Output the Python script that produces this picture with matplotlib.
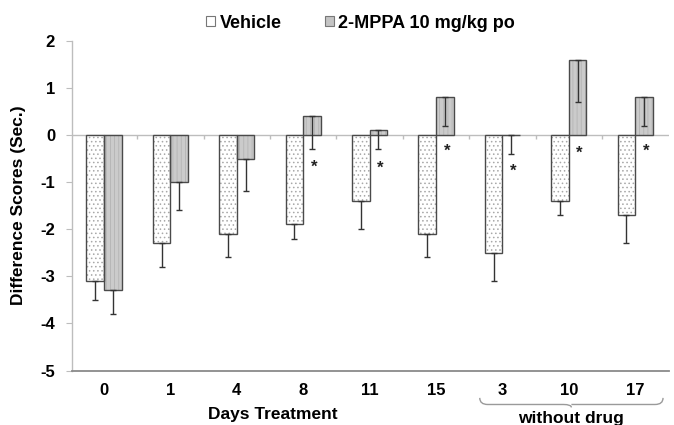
import matplotlib
matplotlib.use("Agg")
import matplotlib.pyplot as plt
from matplotlib.patches import Patch
from matplotlib.path import Path
from matplotlib.patches import PathPatch
import matplotlib.transforms as mtransforms
import numpy as np

plt.rcParams['font.family'] = ['Liberation Sans', 'DejaVu Sans']
plt.rcParams['font.weight'] = 'bold'
plt.rcParams['hatch.linewidth'] = 0.6

days = ['0', '1', '4', '8', '11', '15', '3', '10', '17']
vehicle = [-3.1, -2.3, -2.1, -1.9, -1.4, -2.1, -2.5, -1.4, -1.7]
vehicle_err = [0.4, 0.5, 0.5, 0.3, 0.6, 0.5, 0.6, 0.3, 0.6]
mppa = [-3.3, -1.0, -0.5, 0.4, 0.1, 0.8, 0.0, 1.6, 0.8]
mppa_err = [0.5, 0.6, 0.7, 0.7, 0.4, 0.6, 0.4, 0.9, 0.6]
star_y = [None, None, None, -0.68, -0.71, -0.34, -0.78, -0.38, -0.34]
series_names = ['Vehicle', '2-MPPA 10 mg/kg po']
group_label = 'without drug'
group_members = ['3', '10', '17']

fig = plt.figure(figsize=(6.74, 4.25), dpi=100)
ax = fig.add_axes([0.1064, 0.1282, 0.8862, 0.7760])

x = np.arange(len(days))
w = 0.265
off = w / 2

veh_face, veh_hatch = 'white', '#a8a8a8'
mp_face, mp_hatch = '#cbcbcb', '#b4b4b4'
edge = '#4a4a4a'

ax.bar(x - off, vehicle, w, color=veh_face, edgecolor=veh_hatch, hatch='....', linewidth=0, zorder=2)
ax.bar(x - off, vehicle, w, fill=False, edgecolor=edge, linewidth=1.0, zorder=3)
ax.bar(x + off, mppa, w, color=mp_face, edgecolor=mp_hatch, hatch='||||', linewidth=0, zorder=2)
ax.bar(x + off, mppa, w, fill=False, edgecolor=edge, linewidth=1.0, zorder=3)

ax.errorbar(x - off, vehicle, yerr=[vehicle_err, [0] * len(x)], fmt='none',
            ecolor='#333333', elinewidth=1.0, capsize=2, capthick=1.0, zorder=4)
ax.errorbar(x + off, mppa, yerr=[mppa_err, [0] * len(x)], fmt='none',
            ecolor='#333333', elinewidth=1.0, capsize=2, capthick=1.0, zorder=4)

for xi, sy in zip(x, star_y):
    if sy is not None:
        ax.text(xi + off + 0.03, sy, '*', ha='center', va='center', fontsize=12,
                fontweight='bold', color='#222222', zorder=5)

# zero line with category boundary ticks
ax.axhline(0, color='#bdbdbd', lw=1.0, zorder=1)
ax.vlines(x[:-1] + 0.5, -0.085, 0, color='#bdbdbd', lw=1.0, zorder=1)

ax.set_xlim(-0.485, 8.51)
ax.set_ylim(-5, 2)
ax.set_yticks(range(-5, 3))
ax.set_yticklabels([str(v) for v in range(-5, 3)], fontsize=12, fontweight='bold')
ax.set_xticks(x)
ax.set_xticklabels(days, fontsize=12, fontweight='bold')
ax.tick_params(axis='x', length=0, pad=9)
ax.tick_params(axis='y', length=4, color='#bdbdbd', direction='out', pad=8)

for s in ['top', 'right']:
    ax.spines[s].set_visible(False)
ax.spines['left'].set_color('#bdbdbd')
ax.spines['left'].set_linewidth(1.0)
ax.spines['bottom'].set_color('#8a8a8a')
ax.spines['bottom'].set_linewidth(1.3)

ax.set_ylabel('Difference Scores (Sec.)', fontsize=12.5, fontweight='bold', labelpad=10)

fig.text(272.5 / 674, 1 - 415 / 425, 'Days Treatment', ha='center', va='center',
         fontsize=12.5, fontweight='bold')

# brace under the "without drug" group
gi = [days.index(g) for g in group_members]
x0, x1 = gi[0] - 0.34, gi[-1] + 0.42
xm = (x0 + x1) / 2
trans = mtransforms.blended_transform_factory(ax.transData, ax.transAxes)
yt, ym, yb = -0.083, -0.103, -0.112
r = 0.12
verts = [(x0, yt), (x0, ym), (x0 + r, ym),
         (xm - r, ym),
         (xm, ym), (xm, yb),
         (xm, ym), (xm + r, ym),
         (x1 - r, ym),
         (x1, ym), (x1, yt)]
codes = [Path.MOVETO, Path.CURVE3, Path.CURVE3,
         Path.LINETO,
         Path.CURVE3, Path.CURVE3,
         Path.MOVETO, Path.LINETO,
         Path.LINETO,
         Path.CURVE3, Path.CURVE3]
brace = PathPatch(Path(verts, codes), transform=trans, fill=False, edgecolor='#9a9a9a',
                  lw=1.0, clip_on=False)
ax.add_patch(brace)
ax.text(xm, -0.147, group_label, transform=trans, ha='center', va='center',
        fontsize=12.5, fontweight='bold', clip_on=False)

handles = [Patch(facecolor='white', edgecolor='#777777', lw=0.8),
           Patch(facecolor='#c4c4c4', edgecolor='#777777', lw=0.8)]
fig.legend(handles, series_names, loc='center', bbox_to_anchor=(0.535, 1 - 23 / 425),
           ncol=2, frameon=False, handlelength=0.5, handleheight=0.5,
           handletextpad=0.25, columnspacing=2.4, prop={'weight': 'bold', 'size': 13})

fig.savefig('out.png', dpi=100)
